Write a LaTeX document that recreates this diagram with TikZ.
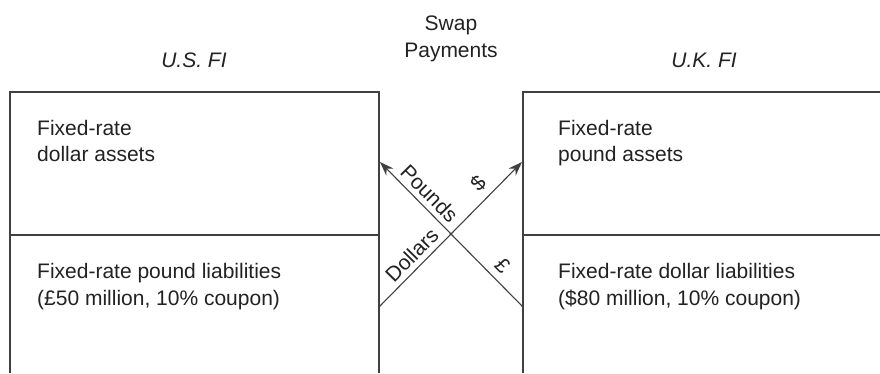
\documentclass[tikz,border=0pt]{standalone}
\usepackage{fontspec}
\setmainfont{Liberation Sans}
\usetikzlibrary{arrows.meta}
\definecolor{ln}{HTML}{404040}
\definecolor{tx}{HTML}{222222}
\begin{document}
\begin{tikzpicture}[x=1pt,y=-1pt,
  boxline/.style={draw=ln, line width=1.2pt},
  lbl/.style={font=\fontsize{21}{26.3}\selectfont, text=tx, inner sep=0pt},
  head/.style={lbl, font=\fontsize{21}{26.3}\selectfont\itshape},
  flow/.style={draw=ln, line width=1.1pt, -{Stealth[length=14pt,width=10pt]}},
  tag/.style={lbl, sloped, above, inner sep=5pt},
  cur/.style={lbl, sloped, above, inner sep=7pt}]
\useasboundingbox (0,0) rectangle (880,373);
\fill[white] (0,0) rectangle (880,373);
% boxes
\draw[boxline] (10,373) -- (10,92) -- (379,92) -- (379,373);
\draw[boxline] (10,235) -- (379,235);
\draw[boxline] (880,92) -- (523,92) -- (523,373);
\draw[boxline] (523,235) -- (880,235);
% headings
\node[head, anchor=base] (us) at (194,67) {U.S. FI};
\node[head, anchor=base] (uk) at (704,67) {U.K. FI};
\node[lbl, anchor=base, align=center] (swap) at (451,57) {Swap\\Payments};
% box texts (base = baseline of the last line)
\node[lbl, anchor=base west, align=left] (usA) at (37,161.5) {Fixed-rate\\dollar assets};
\node[lbl, anchor=base west, align=left] (usL) at (37,305) {Fixed-rate pound liabilities\\(£50 million, 10\% coupon)};
\node[lbl, anchor=base west, align=left] (ukA) at (558,161.5) {Fixed-rate\\pound assets};
\node[lbl, anchor=base west, align=left] (ukL) at (558,305) {Fixed-rate dollar liabilities\\(\$80 million, 10\% coupon)};
% swap arrows
\coordinate (pS) at (523,307);
\coordinate (pE) at (380,162);
\coordinate (dS) at (379,307);
\coordinate (dE) at (522,162);
\draw[flow] (pS) -- node[tag, pos=0.72] (pl) {Pounds} node[cur, pos=0.217] (gbp) {£} (pE);
\draw[flow] (dS) -- node[tag, pos=0.294] (dl) {Dollars} node[cur, pos=0.774] (usd) {\$} (dE);
\end{tikzpicture}
\end{document}
